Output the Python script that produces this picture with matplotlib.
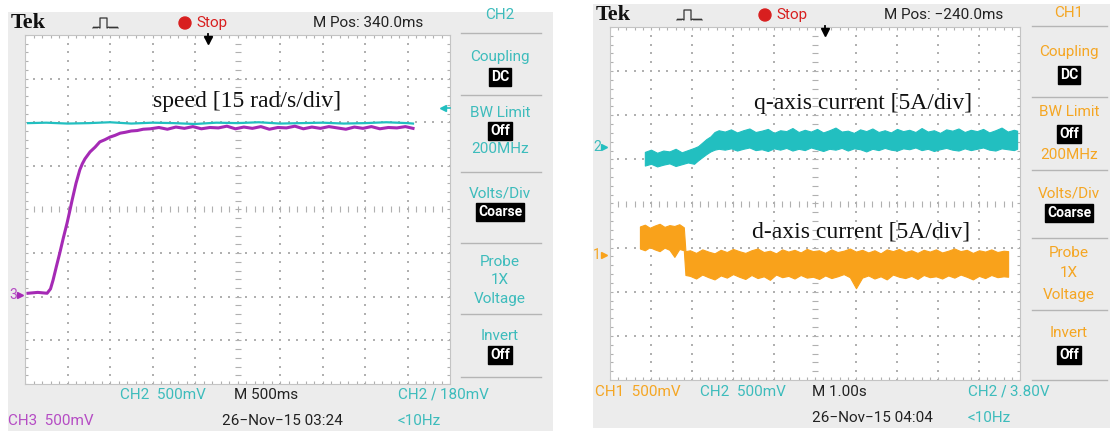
import numpy as np
import matplotlib
matplotlib.use("Agg")
import matplotlib.pyplot as plt
from matplotlib import font_manager
from matplotlib.patches import Rectangle, Circle

# ---------- trace data (time and level in graticule divisions) ----------
# left screen: CH2 speed reference (cyan) and CH3 measured speed (magenta)
ref_t = [0.07, 0.5, 1.0, 1.5, 2.0, 2.5, 3.0, 3.5, 4.0, 4.5,
         5.0, 5.5, 6.0, 6.5, 7.0, 7.5, 8.0, 8.5, 9.0, 9.13]
ref_v = [1.98, 1.99, 1.97, 1.98, 2.00, 1.97, 1.99, 1.98, 1.96, 1.99,
         1.98, 2.00, 1.97, 1.98, 1.99, 1.97, 1.98, 2.00, 1.98, 1.97]

spd_t = [0.07, 0.30, 0.52, 0.60, 0.66, 0.74, 0.82, 0.90, 0.99, 1.05,
         1.11, 1.20, 1.29, 1.35, 1.41, 1.53, 1.65, 1.76, 1.88, 2.00,
         2.12, 2.24, 2.36, 2.50, 2.64, 2.78,
         2.95, 3.15, 3.35, 3.55, 3.75, 3.95, 4.15, 4.35, 4.55, 4.75,
         4.95, 5.15, 5.35, 5.55, 5.75, 5.95, 6.15, 6.35, 6.55, 6.75,
         6.95, 7.15, 7.35, 7.55, 7.75, 7.95, 8.15, 8.35, 8.55, 8.75,
         8.95, 9.13]
spd_v = [-1.92, -1.90, -1.92, -1.82, -1.62, -1.30, -0.99, -0.66, -0.31, -0.05,
         0.22, 0.60, 0.91, 1.05, 1.16, 1.32, 1.43, 1.55, 1.60, 1.66,
         1.70, 1.75, 1.77, 1.80, 1.81, 1.84,
         1.85, 1.88, 1.84, 1.89, 1.86, 1.90, 1.85, 1.88, 1.87, 1.91,
         1.85, 1.89, 1.86, 1.90, 1.84, 1.88, 1.87, 1.91, 1.85, 1.89,
         1.86, 1.90, 1.87, 1.84, 1.89, 1.86, 1.90, 1.85, 1.88, 1.87,
         1.90, 1.86]

# right screen: q-axis current (cyan band) and d-axis current (orange band)
iq_t = [0.85, 1.00, 1.15, 1.30, 1.45, 1.60, 1.75, 1.90, 2.05,
        2.15, 2.25, 2.35, 2.45, 2.55, 2.65,
        2.80, 2.95, 3.10, 3.25, 3.40, 3.55, 3.70, 3.85, 4.00, 4.15,
        4.30, 4.45, 4.60, 4.75, 4.90, 5.05, 5.20, 5.35, 5.50, 5.65,
        5.80, 5.95, 6.10, 6.25, 6.40, 6.55, 6.70, 6.85, 7.00, 7.15,
        7.30, 7.45, 7.60, 7.75, 7.90, 8.05, 8.20, 8.35, 8.50, 8.65,
        8.80, 8.95, 9.10, 9.25, 9.40, 9.55, 9.70, 9.85, 9.93]
iq_hi = [1.17, 1.22, 1.15, 1.20, 1.18, 1.24, 1.16, 1.21, 1.26,
         1.30, 1.38, 1.46, 1.52, 1.62, 1.66,
         1.63, 1.68, 1.61, 1.66, 1.70, 1.62, 1.65, 1.69, 1.60, 1.66,
         1.64, 1.71, 1.62, 1.67, 1.63, 1.69, 1.61, 1.66, 1.72, 1.63,
         1.65, 1.60, 1.68, 1.64, 1.70, 1.62, 1.66, 1.61, 1.69, 1.64,
         1.67, 1.62, 1.71, 1.63, 1.66, 1.60, 1.68, 1.65, 1.70, 1.62,
         1.67, 1.64, 1.69, 1.61, 1.66, 1.72, 1.63, 1.67, 1.65]
iq_lo = [0.86, 0.90, 0.84, 0.88, 0.91, 0.85, 0.89, 0.93, 0.90,
         0.98, 1.05, 1.12, 1.18, 1.22, 1.24,
         1.22, 1.25, 1.20, 1.24, 1.27, 1.21, 1.23, 1.19, 1.25, 1.22,
         1.26, 1.20, 1.24, 1.21, 1.27, 1.23, 1.19, 1.24, 1.22, 1.26,
         1.20, 1.25, 1.23, 1.18, 1.24, 1.21, 1.26, 1.22, 1.20, 1.25,
         1.23, 1.27, 1.21, 1.24, 1.19, 1.23, 1.26, 1.22, 1.20, 1.25,
         1.21, 1.24, 1.27, 1.22, 1.20, 1.25, 1.23, 1.21, 1.24]

id_t = [0.73, 0.85, 0.97, 1.09, 1.21, 1.33, 1.45, 1.57, 1.69, 1.80,
        1.84,
        1.95, 2.10, 2.25, 2.40, 2.55, 2.70, 2.85, 3.00, 3.15, 3.30,
        3.45, 3.60, 3.75, 3.90, 4.05, 4.20, 4.35, 4.50, 4.65, 4.80,
        4.95, 5.10, 5.25, 5.40, 5.55, 5.70, 5.85, 6.00, 6.15, 6.30,
        6.45, 6.60, 6.75, 6.90, 7.05, 7.20, 7.35, 7.50, 7.65, 7.80,
        7.95, 8.10, 8.25, 8.40, 8.55, 8.70, 8.85, 9.00, 9.15, 9.30,
        9.45, 9.60, 9.71]
id_hi = [-0.52, -0.48, -0.55, -0.50, -0.46, -0.53, -0.49, -0.51, -0.47, -0.54,
         -1.08,
         -1.06, -1.12, -1.04, -1.09, -1.13, -1.05, -1.10, -1.03, -1.08, -1.12,
         -1.06, -1.02, -1.10, -1.07, -1.13, -1.04, -1.09, -1.05, -1.11, -1.03,
         -1.08, -1.06, -1.12, -1.04, -1.10, -1.07, -1.02, -1.09, -1.05, -1.11,
         -1.06, -1.13, -1.04, -1.08, -1.03, -1.10, -1.06, -1.12, -1.05, -1.09,
         -1.04, -1.11, -1.07, -1.02, -1.08, -1.05, -1.12, -1.06, -1.09, -1.04,
         -1.10, -1.07, -1.08]
id_lo = [-1.02, -1.06, -0.99, -1.04, -1.08, -1.00, -1.05, -1.21, -1.03, -1.06,
         -1.62,
         -1.64, -1.70, -1.61, -1.67, -1.72, -1.63, -1.68, -1.60, -1.66, -1.71,
         -1.62, -1.69, -1.65, -1.73, -1.61, -1.67, -1.64, -1.70, -1.62, -1.68,
         -1.66, -1.71, -1.63, -1.69, -1.65, -1.60, -1.67, -1.92, -1.68, -1.63,
         -1.70, -1.65, -1.72, -1.61, -1.66, -1.69, -1.64, -1.71, -1.62, -1.67,
         -1.65, -1.70, -1.63, -1.68, -1.61, -1.66, -1.72, -1.64, -1.69, -1.62,
         -1.67, -1.65, -1.66]

# ---------- colours / fonts ----------
PANEL = "#ececec"
CYAN = "#22bfc0"
CYAN_TXT = "#3dbcbc"
MAGENTA = "#a52ab5"
MAGENTA_TXT = "#b54cc4"
ORANGE = "#f9a21b"
ORANGE_TXT = "#f5a623"
RED = "#d81f1f"

names = {f.name for f in font_manager.fontManager.ttflist}
SCOPE = ["Liberation Sans Narrow", "DejaVu Sans"] if "Liberation Sans Narrow" in names \
    else ["Roboto", "DejaVu Sans"]
SERIF = ["Liberation Serif", "DejaVu Serif"]
FS = 11

W, H = 1114, 434
fig = plt.figure(figsize=(W / 100, H / 100), dpi=100)
fig.patch.set_facecolor("white")

bg = fig.add_axes([0, 0, 1, 1])
bg.set_xlim(0, W)
bg.set_ylim(H, 0)
bg.axis("off")


def txt(ax, x, y, s, color="#222222", size=FS, ha="left", **kw):
    ax.text(x, y, s, color=color, fontsize=size, ha=ha, va="center",
            family=kw.pop("family", SCOPE), **kw)


def graticule(px):
    x0, y0, x1, y1 = px
    ax = fig.add_axes([x0 / W, (H - y1) / H, (x1 - x0) / W, (y1 - y0) / H])
    ax.set_facecolor("white")
    ax.set_xlim(0, 10)
    ax.set_ylim(-4, 4)
    ax.set_xticks([])
    ax.set_yticks([])
    for s in ax.spines.values():
        s.set_color("#c4c4c4")
        s.set_linewidth(0.8)
    mx = np.arange(0, 10.01, 0.2)
    my = np.arange(-4, 4.01, 0.2)
    dot = dict(ls="none", marker="s", ms=1.5, color="#b0b0b0", mew=0)
    for gx in [1, 2, 3, 4, 6, 7, 8, 9]:
        ax.plot(np.full_like(my, gx), my, **dot)
    for gy in [-3, -2, -1, 1, 2, 3]:
        ax.plot(mx, np.full_like(mx, gy), **dot)
    tk = dict(ls="none", color="#b0b0b0", mew=0.8)
    ax.plot(mx, np.zeros_like(mx), marker="|", ms=4.5, **tk)
    ax.plot(np.full_like(my, 5), my, marker="_", ms=4.5, **tk)
    ax.plot(mx, np.full_like(mx, 4), marker="|", ms=5, **tk)
    ax.plot(mx, np.full_like(mx, -4), marker="|", ms=5, **tk)
    ax.plot(np.zeros_like(my), my, marker="_", ms=5, **tk)
    ax.plot(np.full_like(my, 10), my, marker="_", ms=5, **tk)
    return ax


def pulse_icon(x, y):
    xs = [0, 1, 2, 3, 4, 5, 7, 7, 14, 14, 16, 17, 18, 19, 20, 21, 22, 23, 24, 25]
    ys = [5, 4, 5, 4, 5, 4, 5, -5, -5, 5, 4, 5, 4, 5, 4, 5, 4, 5, 4, 5]
    bg.plot([x + a for a in xs], [y + b for b in ys], color="#333333", lw=0.9)


def menu(cx, xa, xb, color, rows, seps):
    for y in seps:
        bg.plot([xa, xb], [y, y], color="#b5b5b5", lw=1.0)
    for y, s, boxed in rows:
        if boxed:
            bg.text(cx, y, s, color="white", fontsize=FS - 1, ha="center", va="center",
                    family=SCOPE, fontweight="bold",
                    bbox=dict(facecolor="black", edgecolor="black", pad=1.2))
        else:
            txt(bg, cx, y, s, color=color, ha="center")


def trig_arrow(ax, x, y):
    ax.plot([x, x], [y - 4, y + 1], color="black", lw=1.3, zorder=6)
    ax.plot([x], [y + 2], marker="v", ms=6, color="black", zorder=6)


# ---------- left screen ----------
bg.add_patch(Rectangle((8, 12), 545, 419, facecolor=PANEL, edgecolor="none"))
txt(bg, 11, 23, "Tek", color="#111111", size=16, family=SERIF, fontweight="bold")
pulse_icon(93, 23)
bg.add_patch(Circle((185, 23), 6, color=RED))
txt(bg, 196, 23, "Stop", color=RED)
txt(bg, 313, 23, "M Pos: 340.0ms")
menu(500, 461, 541, CYAN_TXT,
     [(15, "CH2", False), (57, "Coupling", False), (77, "DC", True),
      (113, "BW Limit", False), (131, "Off", True), (149, "200MHz", False),
      (193, "Volts/Div", False), (212, "Coarse", True),
      (262, "Probe", False), (280, "1X", False), (299, "Voltage", False),
      (336, "Invert", False), (355, "Off", True)],
     [33, 95, 172, 243, 314, 377])
txt(bg, 120, 395, "CH2  500mV", color=CYAN_TXT)
txt(bg, 234, 395, "M 500ms")
txt(bg, 398, 395, "CH2 \u2215 180mV", color=CYAN_TXT)
txt(bg, 8, 421, "CH3  500mV", color=MAGENTA_TXT)
txt(bg, 222, 421, "26\u2212Nov\u221215 03:24")
txt(bg, 398, 421, "<10Hz", color=CYAN_TXT)

axl = graticule((25, 35, 450, 384))
axl.plot(ref_t, ref_v, color=CYAN, lw=1.6, zorder=4)
axl.plot(spd_t, spd_v, color=MAGENTA, lw=2.2, zorder=5)

# ---------- right screen ----------
bg.add_patch(Rectangle((593, 4), 517, 424, facecolor=PANEL, edgecolor="none"))
txt(bg, 596, 15, "Tek", color="#111111", size=16, family=SERIF, fontweight="bold")
pulse_icon(677, 15)
bg.add_patch(Circle((765, 15), 6, color=RED))
txt(bg, 776, 15, "Stop", color=RED)
txt(bg, 884, 15, "M Pos: \u2212240.0ms")
menu(1069, 1032, 1107, ORANGE_TXT,
     [(13, "CH1", False), (52, "Coupling", False), (75, "DC", True),
      (112, "BW Limit", False), (134, "Off", True), (155, "200MHz", False),
      (193, "Volts/Div", False), (213, "Coarse", True),
      (253, "Probe", False), (273, "1X", False), (295, "Voltage", False),
      (333, "Invert", False), (355, "Off", True)],
     [26, 97, 170, 238, 310, 380])
txt(bg, 595, 392, "CH1  500mV", color=ORANGE_TXT)
txt(bg, 700, 392, "CH2  500mV", color=CYAN_TXT)
txt(bg, 812, 392, "M 1.00s")
txt(bg, 968, 392, "CH2 \u2215 3.80V", color=CYAN_TXT)
txt(bg, 812, 418, "26\u2212Nov\u221215 04:04")
txt(bg, 968, 418, "<10Hz", color=CYAN_TXT)

axr = graticule((610, 27, 1020, 380))
axr.fill_between(iq_t, iq_lo, iq_hi, color=CYAN, lw=0.8, zorder=4)
axr.fill_between(id_t, id_lo, id_hi, color=ORANGE, lw=0.8, zorder=4)

# ---------- overlay: labels, channel markers, trigger arrows ----------
top = fig.add_axes([0, 0, 1, 1])
top.set_xlim(0, W)
top.set_ylim(H, 0)
top.axis("off")
top.patch.set_alpha(0)
trig_arrow(top, 208, 38)
trig_arrow(top, 825, 30)
top.plot([443, 450], [108, 108], color=CYAN, lw=1.2)
top.plot([443], [108], marker="<", ms=5, color=CYAN)

txt(top, 9, 295, "3", color=MAGENTA_TXT, size=10)
top.plot([20], [295], marker=">", ms=4.5, color=MAGENTA)
txt(top, 593, 147, "2", color=CYAN_TXT, size=10)
top.plot([604], [147], marker=">", ms=4.5, color=CYAN)
txt(top, 593, 255, "1", color=ORANGE_TXT, size=10)
top.plot([604], [255], marker=">", ms=4.5, color=ORANGE)

top.text(247, 101, "speed [15 rad/s/div]", fontsize=17, family=SERIF,
         ha="center", va="center", color="#111111")
top.text(863, 103, "q-axis current [5A/div]", fontsize=17, family=SERIF,
         ha="center", va="center", color="#111111")
top.text(861, 232, "d-axis current [5A/div]", fontsize=17, family=SERIF,
         ha="center", va="center", color="#111111")

fig.savefig("out.png", dpi=100)
